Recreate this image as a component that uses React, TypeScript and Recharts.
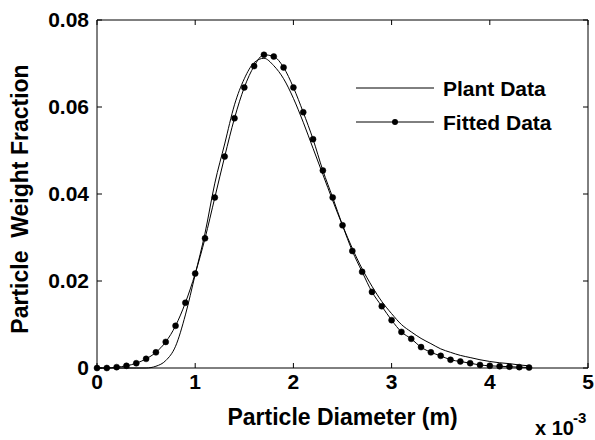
import React from 'react';
import { LineChart, Line, XAxis, YAxis, Legend, Label } from 'recharts';

const diameters = [0, 0.1, 0.2, 0.3, 0.4, 0.5, 0.6, 0.7, 0.8, 0.9, 1.0, 1.1, 1.2, 1.3, 1.4, 1.5, 1.6, 1.7, 1.8, 1.9, 2.0, 2.1, 2.2, 2.3, 2.4, 2.5, 2.6, 2.7, 2.8, 2.9, 3.0, 3.1, 3.2, 3.3, 3.4, 3.5, 3.6, 3.7, 3.8, 3.9, 4.0, 4.1, 4.2, 4.3, 4.4];

const plantData = [0, 0, 0, 0, 0, 0, 0.0004, 0.0017, 0.005, 0.0122, 0.0215, 0.031, 0.0425, 0.0515, 0.0605, 0.0665, 0.0702, 0.0712, 0.0695, 0.0665, 0.062, 0.0565, 0.0505, 0.0445, 0.0385, 0.0328, 0.0275, 0.0228, 0.0188, 0.0153, 0.0125, 0.01, 0.0083, 0.0068, 0.0056, 0.0044, 0.0036, 0.0029, 0.0024, 0.0019, 0.0015, 0.0012, 0.001, 0.0007, 0.0005];

const fittedData = [0, 0, 0.0002, 0.0005, 0.0011, 0.0021, 0.0036, 0.006, 0.0097, 0.015, 0.0217, 0.0298, 0.0392, 0.0486, 0.0574, 0.0645, 0.0694, 0.072, 0.0716, 0.0691, 0.0645, 0.0588, 0.0526, 0.0454, 0.0392, 0.0328, 0.0269, 0.0221, 0.0175, 0.0142, 0.011, 0.0083, 0.0067, 0.0048, 0.0036, 0.0028, 0.0019, 0.0015, 0.0011, 0.0007, 0.0005, 0.0004, 0.0003, 0.0002, 0.0001];

const xTicks = [0, 1, 2, 3, 4, 5];
const yTicks = [0, 0.02, 0.04, 0.06, 0.08];

const seriesNames = ['Plant Data', 'Fitted Data'];

const rows = diameters.map((d, i) => ({ d, plant: plantData[i], fitted: fittedData[i] }));

const FONT = '"Liberation Sans", Arial, Helvetica, sans-serif';

const tickStyle = { fontFamily: FONT, fontSize: 21, fontWeight: 700, fill: '#000' };

const yFmt = (v: number) => (v === 0 ? '0' : v.toFixed(2));
const blankFmt = () => '';

const LegendContent = () => (
  <svg width={245} height={370} style={{ display: 'block', overflow: 'visible' }}>
    <line x1={6} y1={18} x2={84} y2={18} stroke="#000" strokeWidth={1} />
    <text x={93} y={26} fontFamily={FONT} fontSize={21} fontWeight={700} fill="#000">{seriesNames[0]}</text>
    <line x1={6} y1={52} x2={84} y2={52} stroke="#000" strokeWidth={1} />
    <circle cx={45} cy={52} r={3} fill="#000" />
    <text x={93} y={60} fontFamily={FONT} fontSize={21} fontWeight={700} fill="#000">{seriesNames[1]}</text>
    <text x={185} y={365} fontFamily={FONT} fontSize={20} fontWeight={700} fill="#000">
      x 10<tspan dx={-1} dy={-12} fontSize={15}>-3</tspan>
    </text>
  </svg>
);

const XTitle = (props: any) => {
  const vb = props.viewBox;
  return (
    <text x={vb.x + vb.width / 2} y={vb.y + 57} textAnchor="middle" fontFamily={FONT} fontSize={23} fontWeight={700} fill="#000">
      Particle Diameter (m)
    </text>
  );
};

const YTitle = (props: any) => {
  const vb = props.viewBox;
  const cx = 28;
  const cy = vb.y + vb.height / 2 + 5;
  return (
    <text x={cx} y={cy} textAnchor="middle" transform={`rotate(-90, ${cx}, ${cy})`} fontFamily={FONT} fontSize={23} fontWeight={700} style={{ whiteSpace: 'pre' }} fill="#000">
      {'Particle  Weight Fraction'}
    </text>
  );
};

export default function App() {
  return (
    <div style={{ position: 'absolute', left: 0, top: 0, width: 595, height: 440, background: '#fff' }}>
      <LineChart width={595} height={440} data={rows} margin={{ top: 19, right: 6, bottom: 0, left: 0 }}>
        <XAxis
          dataKey="d"
          type="number"
          domain={[0, 5]}
          ticks={xTicks}
          interval={0}
          height={72}
          tickSize={-5}
          tickMargin={11}
          tick={tickStyle}
          axisLine={{ stroke: '#000', strokeWidth: 1 }}
          tickLine={{ stroke: '#000', strokeWidth: 1 }}
        >
          <Label content={<XTitle />} />
        </XAxis>
        <XAxis
          xAxisId="top"
          orientation="top"
          dataKey="d"
          type="number"
          domain={[0, 5]}
          ticks={xTicks}
          interval={0}
          height={1}
          tickSize={-5}
          tickFormatter={blankFmt}
          tick={{ fontSize: 1, fill: 'none' }}
          axisLine={{ stroke: '#000', strokeWidth: 1 }}
          tickLine={{ stroke: '#000', strokeWidth: 1 }}
        />
        <YAxis
          type="number"
          domain={[0, 0.08]}
          ticks={yTicks}
          interval={0}
          width={97}
          tickSize={-5}
          tickMargin={13}
          tickFormatter={yFmt}
          tick={tickStyle}
          axisLine={{ stroke: '#000', strokeWidth: 1 }}
          tickLine={{ stroke: '#000', strokeWidth: 1 }}
          label={<YTitle />}
        />
        <YAxis
          yAxisId="right"
          orientation="right"
          type="number"
          domain={[0, 0.08]}
          ticks={yTicks}
          interval={0}
          width={1}
          tickSize={-5}
          tickFormatter={blankFmt}
          tick={{ fontSize: 1, fill: 'none' }}
          axisLine={{ stroke: '#000', strokeWidth: 1 }}
          tickLine={{ stroke: '#000', strokeWidth: 1 }}
        />
        <Legend
          layout="horizontal"
          verticalAlign="middle"
          align="center"
          content={<LegendContent />}
          wrapperStyle={{ position: 'absolute', left: 350, top: 70, width: 245, height: 370 }}
        />
        <Line
          xAxisId="top"
          yAxisId="right"
          type="monotone"
          dataKey="fitted"
          stroke="none"
          dot={false}
          activeDot={false}
          legendType="none"
          isAnimationActive={false}
        />
        <Line
          type="monotone"
          dataKey="plant"
          name={seriesNames[0]}
          stroke="#000"
          strokeWidth={1}
          dot={false}
          isAnimationActive={false}
        />
        <Line
          type="monotone"
          dataKey="fitted"
          name={seriesNames[1]}
          stroke="#000"
          strokeWidth={1}
          dot={{ r: 3, fill: '#000', stroke: '#000', strokeWidth: 0.5 }}
          isAnimationActive={false}
        />
      </LineChart>
    </div>
  );
}
